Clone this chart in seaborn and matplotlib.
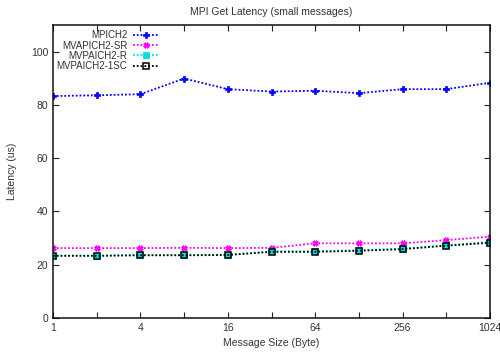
import matplotlib
matplotlib.use("Agg")
import matplotlib.pyplot as plt
import seaborn as sns
import pandas as pd
import numpy as np

sizes = [1, 2, 4, 8, 16, 32, 64, 128, 256, 512, 1024]
mpich2 = [83.3, 83.6, 84.0, 89.9, 85.9, 85.0, 85.3, 84.4, 85.9, 85.9, 88.3]
mvapich2_sr = [26.2, 26.2, 26.2, 26.3, 26.2, 26.3, 28.0, 28.0, 28.0, 29.2, 30.5]
mvapich2_r = [23.4, 23.4, 23.6, 23.6, 23.7, 25.0, 25.0, 25.4, 26.0, 27.3, 28.5]
mvapich2_1sc = [23.3, 23.3, 23.5, 23.5, 23.6, 24.8, 24.8, 25.2, 25.8, 27.1, 28.2]
series_names = ["MPICH2", "MVAPICH2-SR", "MVPAICH2-R", "MVPAICH2-1SC"]
xtick_labels = ["1", "4", "16", "64", "256", "1024"]

sns.set_style("ticks")
plt.rcParams["font.family"] = ["Liberation Sans", "DejaVu Sans"]

fig = plt.figure(figsize=(5.0, 3.52), dpi=100)
ax = fig.add_axes([0.106, 0.097, 0.874, 0.832])

data = pd.DataFrame({"size": sizes, series_names[0]: mpich2, series_names[1]: mvapich2_sr,
                     series_names[2]: mvapich2_r, series_names[3]: mvapich2_1sc})
styles = {
    series_names[0]: dict(color="#0000ff", marker="P", ms=4.2, mfc="#0000ff", mec="#0000ff"),
    series_names[1]: dict(color="#ff00ff", marker="X", ms=4.2, mfc="#ff00ff", mec="#ff00ff"),
    series_names[2]: dict(color="#00e0e0", marker="s", ms=4.2, mfc="#00e0e0", mec="#00e0e0"),
    series_names[3]: dict(color="#000000", marker="s", ms=4.6, mfc="none", mec="#000000", mew=1.1),
}
for name in series_names:
    st = styles[name]
    sns.lineplot(x=data["size"], y=data[name], ax=ax, label=name, color=st["color"],
                 linestyle=(0, (1, 1.1)), linewidth=1.3, marker=st["marker"],
                 markersize=st["ms"], markerfacecolor=st["mfc"], markeredgecolor=st["mec"],
                 markeredgewidth=st.get("mew", 0.5))

ax.set_xscale("log", base=2)
ax.set_xlim(1, 1024)
ax.set_ylim(0, 110)
ax.set_xticks(sizes)
ax.set_xticklabels([str(s) if str(s) in xtick_labels else "" for s in sizes])
ax.xaxis.set_minor_locator(matplotlib.ticker.NullLocator())
ax.set_yticks([0, 20, 40, 60, 80, 100])
ax.tick_params(direction="in", top=True, right=True, length=4, width=0.8, labelsize=7.5,
               colors="#222222", labelcolor="#333333")
for sp in ax.spines.values():
    sp.set_linewidth(1.1)
    sp.set_color("#111111")
ax.set_xlabel("Message Size (Byte)", fontsize=7.5, labelpad=4, color="#333333")
ax.set_ylabel("Latency (us)", fontsize=7.5, labelpad=10, color="#333333")
ax.set_title("MPI Get Latency (small messages)", fontsize=7.5, pad=7, color="#333333")

leg = ax.legend(loc="upper left", bbox_to_anchor=(-0.007, 1.005), frameon=False, markerfirst=False,
                fontsize=7.0, handlelength=2.6, labelspacing=0.02, borderaxespad=0.3, handletextpad=0.6)
for t in leg.get_texts():
    t.set_color("#333333")

fig.savefig("out.png", dpi=100)
